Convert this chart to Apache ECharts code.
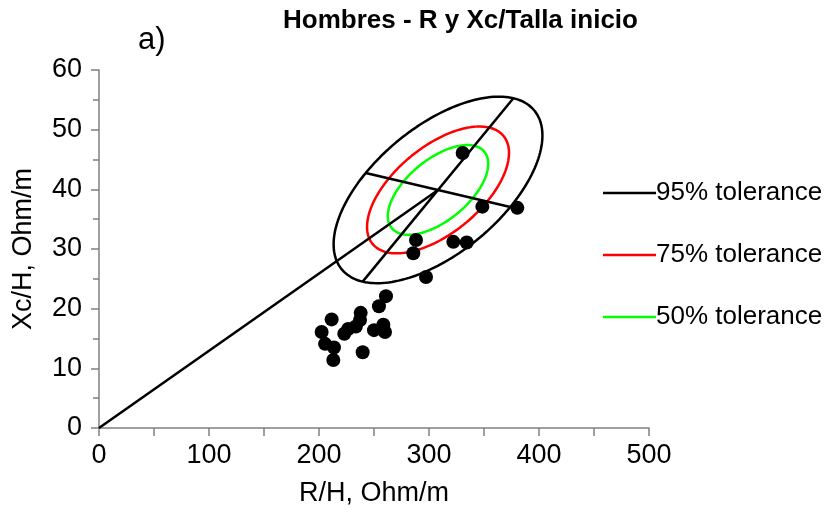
<!DOCTYPE html>
<html>
<head>
<meta charset="utf-8">
<script src="https://cdn.jsdelivr.net/npm/echarts@6/dist/echarts.min.js"></script>
<style>
  html, body { margin: 0; padding: 0; background: #fff; }
</style>
</head>
<body>
<div id="main" style="width: 831px;height:512px;"></div>
<script type="text/javascript">
    // puntos R/H y Xc/H
    var rH  = [330.6, 348.5, 380.3, 288.2, 285.7, 322.1, 334.3, 297.3, 260.9, 254.5, 237.9, 237.3,
               211.5, 202.4, 205.5, 213.6, 213.0, 239.7, 223.0, 226.5, 233.5, 250.0, 258.5, 260.0];
    var xcH = [46.1, 37.1, 36.9, 31.5, 29.3, 31.2, 31.1, 25.3, 22.1, 20.4, 19.3, 18.1,
               18.2, 16.1, 14.1, 13.5, 11.4, 12.7, 15.8, 16.6, 17.0, 16.4, 17.3, 16.1];

    // elipses de tolerancia (centro y semiejes conjugados)
    var ellipseCenter = [308.2, 39.9];
    var majorHalf = [68.5, 15.37];
    var minorHalf = [65.7, -2.85];
    var toleranceNames = ['95% tolerance', '75% tolerance', '50% tolerance'];
    var toleranceScale = [1, 0.68, 0.481];
    var toleranceColors = ['#000000', '#ff0000', '#00ff00'];

    var xTicks = [0, 100, 200, 300, 400, 500];
    var yTicks = [0, 10, 20, 30, 40, 50, 60];

    var font = '"Liberation Sans", Arial, sans-serif';

    function ellipse(k) {
        var pts = [];
        for (var i = 0; i <= 180; i++) {
            var t = i / 180 * 2 * Math.PI;
            pts.push([
                ellipseCenter[0] + k * (majorHalf[0] * Math.cos(t) + minorHalf[0] * Math.sin(t)),
                ellipseCenter[1] + k * (majorHalf[1] * Math.cos(t) + minorHalf[1] * Math.sin(t))
            ]);
        }
        return pts;
    }

    var points = rH.map(function (v, i) { return [v, xcH[i]]; });

    var series = [];
    toleranceNames.forEach(function (name, i) {
        series.push({
            name: name,
            type: 'line',
            data: ellipse(toleranceScale[i]),
            symbol: 'none',
            showSymbol: false,
            smooth: false,
            lineStyle: { color: toleranceColors[i], width: 2.5 },
            itemStyle: { color: toleranceColors[i] },
            z: 3
        });
    });
    // ejes de la elipse y recta desde el origen
    var c = ellipseCenter;
    var axisLines = [
        [[c[0] - majorHalf[0], c[1] - majorHalf[1]], [c[0] + majorHalf[0], c[1] + majorHalf[1]]],
        [[c[0] - minorHalf[0], c[1] - minorHalf[1]], [c[0] + minorHalf[0], c[1] + minorHalf[1]]],
        [[0, 0], [c[0], c[1]]]
    ];
    axisLines.forEach(function (seg) {
        series.push({
            type: 'line',
            data: seg,
            symbol: 'none',
            lineStyle: { color: '#000', width: 2.5 },
            z: 3
        });
    });
    series.push({
        type: 'scatter',
        data: points,
        symbol: 'circle',
        symbolSize: 14,
        itemStyle: { color: '#000', opacity: 1 },
        z: 5
    });

    var myChart = echarts.init(document.getElementById('main'));
    var option = {
        animation: false,
        backgroundColor: '#fff',
        title: [{
            text: 'Hombres - R y Xc/Talla inicio',
            left: 278,
            top: 3,
            textStyle: { fontFamily: font, fontSize: 26, fontWeight: 'bold', color: '#000' }
        }, {
            text: 'a)',
            left: 133,
            top: 20,
            textStyle: { fontFamily: font, fontSize: 31, fontWeight: 'normal', color: '#000' }
        }],
        legend: {
            orient: 'vertical',
            left: 598,
            top: 175,
            icon: 'rect',
            itemWidth: 53,
            itemHeight: 2.5,
            itemGap: 36,
            data: toleranceNames,
            textStyle: { fontFamily: font, fontSize: 26, color: '#000', padding: [0, 0, 0, -5] }
        },
        grid: { left: 99, right: 182, top: 70, bottom: 84 },
        xAxis: {
            type: 'value',
            min: xTicks[0],
            max: xTicks[xTicks.length - 1],
            interval: 100,
            name: 'R/H, Ohm/m',
            nameLocation: 'middle',
            nameGap: 52,
            nameTextStyle: { fontFamily: font, fontSize: 27, color: '#000' },
            axisLine: { lineStyle: { color: '#808080', width: 1.5 } },
            axisTick: { length: 8, lineStyle: { color: '#808080', width: 1.5 } },
            minorTick: { show: true, splitNumber: 2, length: 8, lineStyle: { color: '#808080', width: 1.5 } },
            axisLabel: { fontFamily: font, fontSize: 27, color: '#000', margin: 14 },
            splitLine: { show: false }
        },
        yAxis: {
            type: 'value',
            min: yTicks[0],
            max: yTicks[yTicks.length - 1],
            interval: 10,
            name: 'Xc/H, Ohm/m',
            nameLocation: 'middle',
            nameGap: 62,
            nameTextStyle: { fontFamily: font, fontSize: 27, color: '#000' },
            axisLine: { lineStyle: { color: '#808080', width: 1.5 } },
            axisTick: { length: 8, lineStyle: { color: '#808080', width: 1.5 } },
            minorTick: { show: true, splitNumber: 2, length: 6, lineStyle: { color: '#808080', width: 1.5 } },
            axisLabel: { fontFamily: font, fontSize: 27, color: '#000', margin: 17 },
            splitLine: { show: false }
        },
        series: series
    };
    myChart.setOption(option);
</script>
</body>
</html>
